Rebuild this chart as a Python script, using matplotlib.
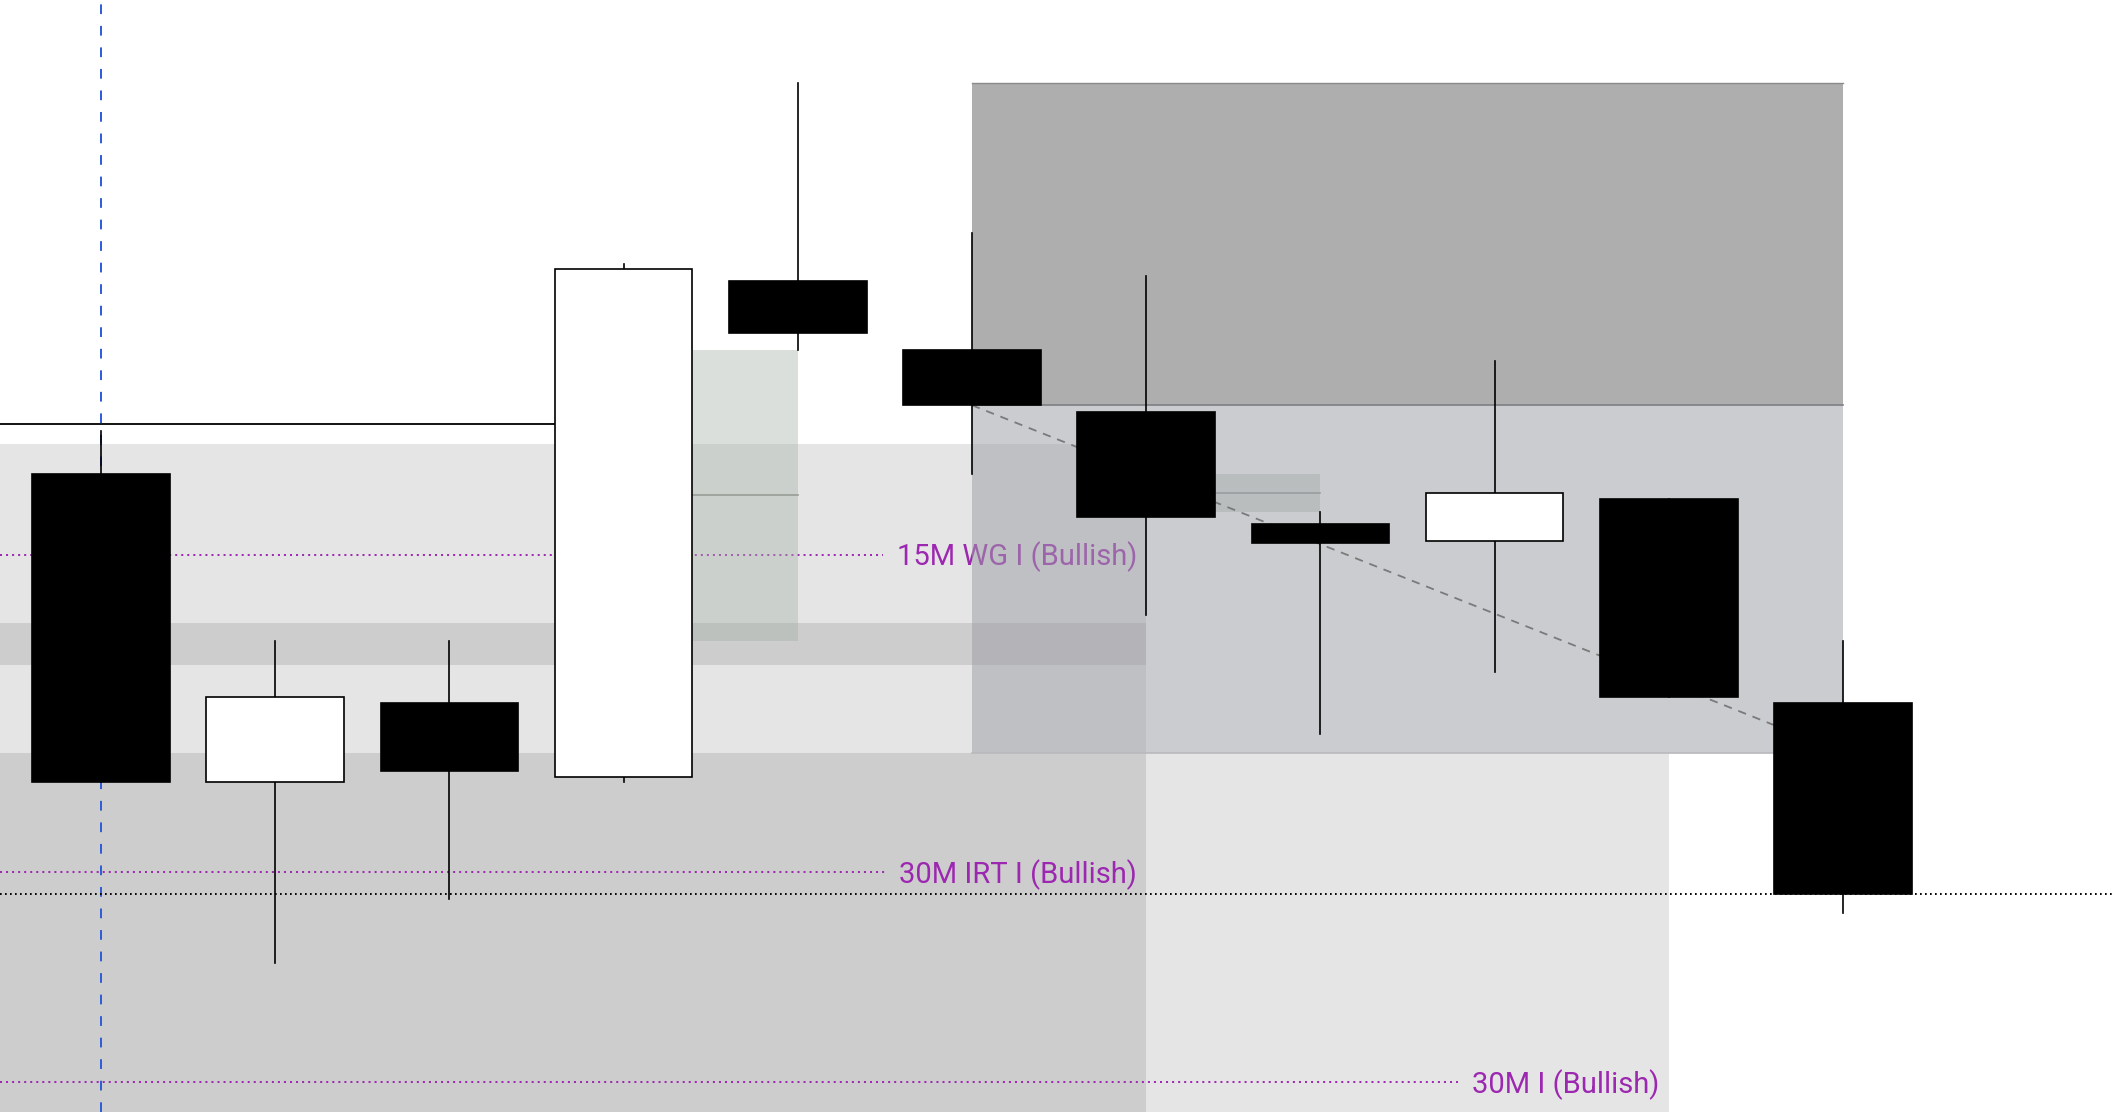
import matplotlib
matplotlib.use('Agg')
import matplotlib.pyplot as plt
from matplotlib.patches import Rectangle

plt.rcParams['font.family'] = ['Roboto', 'DejaVu Sans']
plt.rcParams['lines.scale_dashes'] = False

# candles (price)
opens  = [2447.4, 2424.5, 2430.4, 2424.9, 2461.7, 2456.6, 2452.0, 2443.7, 2442.4, 2445.5, 2430.4]
highs  = [2450.6, 2435.0, 2435.0, 2463.0, 2476.4, 2465.3, 2462.1, 2444.6, 2455.8, 2445.5, 2435.0]
lows   = [2424.5, 2411.1, 2415.8, 2424.5, 2456.6, 2447.4, 2436.9, 2428.1, 2432.7, 2430.8, 2414.8]
closes = [2424.5, 2430.8, 2425.3, 2462.6, 2457.9, 2452.5, 2444.2, 2442.3, 2446.0, 2430.8, 2416.2]

# higher timeframe zones
zone_labels = ['15M WG I (Bullish)', '30M IRT I (Bullish)', '30M I (Bullish)']
zone_end = [6, 6, 9]
zone_top = [2449.6, 2436.3, 2426.7]
zone_bottom = [2433.2, 2399.3, 2377.7]

# fair value gaps (middle candle index)
fvg_mid = [3, 6]

# range box
box_left, box_right = 5, 10
box_top, box_mid, box_bottom = 2476.4, 2452.5, 2426.7

prev_level = 2451.1
marker_candle = 0
half = 0.395

fig = plt.figure(figsize=(21.12, 11.12), dpi=100)
ax = fig.add_axes([0, 0, 1, 1])
ax.set_xlim(-0.58, 11.545)
ax.set_ylim(2400, 2482.6)
ax.axis('off')
xmin = ax.get_xlim()[0]

purple = '#9c27b0'
texts = []
for lab, xe, top, bot in zip(zone_labels, zone_end, zone_top, zone_bottom):
    ax.add_patch(Rectangle((xmin - 1, bot), xe - xmin + 1, top - bot,
                           facecolor='black', alpha=0.1, lw=0, zorder=1))
    t = ax.annotate(lab, xy=(xe, (top + bot) / 2), xytext=(-6.5, -7.5),
                    textcoords='offset points', ha='right', va='baseline',
                    fontsize=21, color=purple, zorder=2)
    texts.append(t)

fig.canvas.draw()
inv = ax.transData.inverted()
for t, top, bot in zip(texts, zone_top, zone_bottom):
    bb = t.get_window_extent()
    x_end = inv.transform((bb.x0 - 14, 0))[0]
    ax.plot([xmin, x_end], [(top + bot) / 2] * 2, color=purple,
            lw=1.4, ls=(0, (1.45, 2.9)), zorder=2)

# fair value gaps
for m in fvg_mid:
    if lows[m + 1] > highs[m - 1]:
        bot, top = highs[m - 1], lows[m + 1]
    else:
        bot, top = highs[m + 1], lows[m - 1]
    ax.add_patch(Rectangle((m + half, bot), 1 - half, top - bot,
                           facecolor='#a7b1a7', alpha=0.4, lw=0, zorder=3))
    ax.plot([m + half, m + 1], [(top + bot) / 2] * 2, color='#989d98', lw=1.2, zorder=3)

# previous level and markers
ax.plot([xmin, 3 - half], [prev_level] * 2, color='black', lw=1.3, zorder=3)
ax.axvline(marker_candle, color='#2b5bd8', lw=1.4, ls=(0, (7, 8.5)), zorder=3)
ax.axhline(closes[-1], color='black', lw=1.4, ls=(0, (1.2, 2.4)), zorder=3)

# range box
ax.add_patch(Rectangle((box_left, box_mid), box_right - box_left, box_top - box_mid,
                       facecolor='#808080', alpha=0.64, lw=0, zorder=4))
ax.add_patch(Rectangle((box_left, box_bottom), box_right - box_left, box_mid - box_bottom,
                       facecolor='#9d9ea5', alpha=0.52, lw=0, zorder=4))
ax.plot([box_left, box_right], [box_top] * 2, color='#8a8a8a', lw=1.0, zorder=4)
ax.plot([box_left, box_right], [box_mid] * 2, color='#7d7d85', lw=1.2, zorder=4)
ax.plot([box_left, box_right], [box_bottom] * 2, color='#b9b9bd', lw=1.2, zorder=4)
ax.plot([box_left, box_right], [box_mid, box_bottom], color='#7a7a7a', lw=1.3,
        ls=(0, (6, 5)), zorder=5)

# candles
for i, (o, h, l, c) in enumerate(zip(opens, highs, lows, closes)):
    ax.plot([i, i], [l, h], color='black', lw=1.2, zorder=6)
    fc = 'white' if c > o else 'black'
    ax.add_patch(Rectangle((i - half, min(o, c)), 2 * half, abs(c - o),
                           facecolor=fc, edgecolor='black', lw=1.2, zorder=7))

fig.savefig('out.png', dpi=100)
